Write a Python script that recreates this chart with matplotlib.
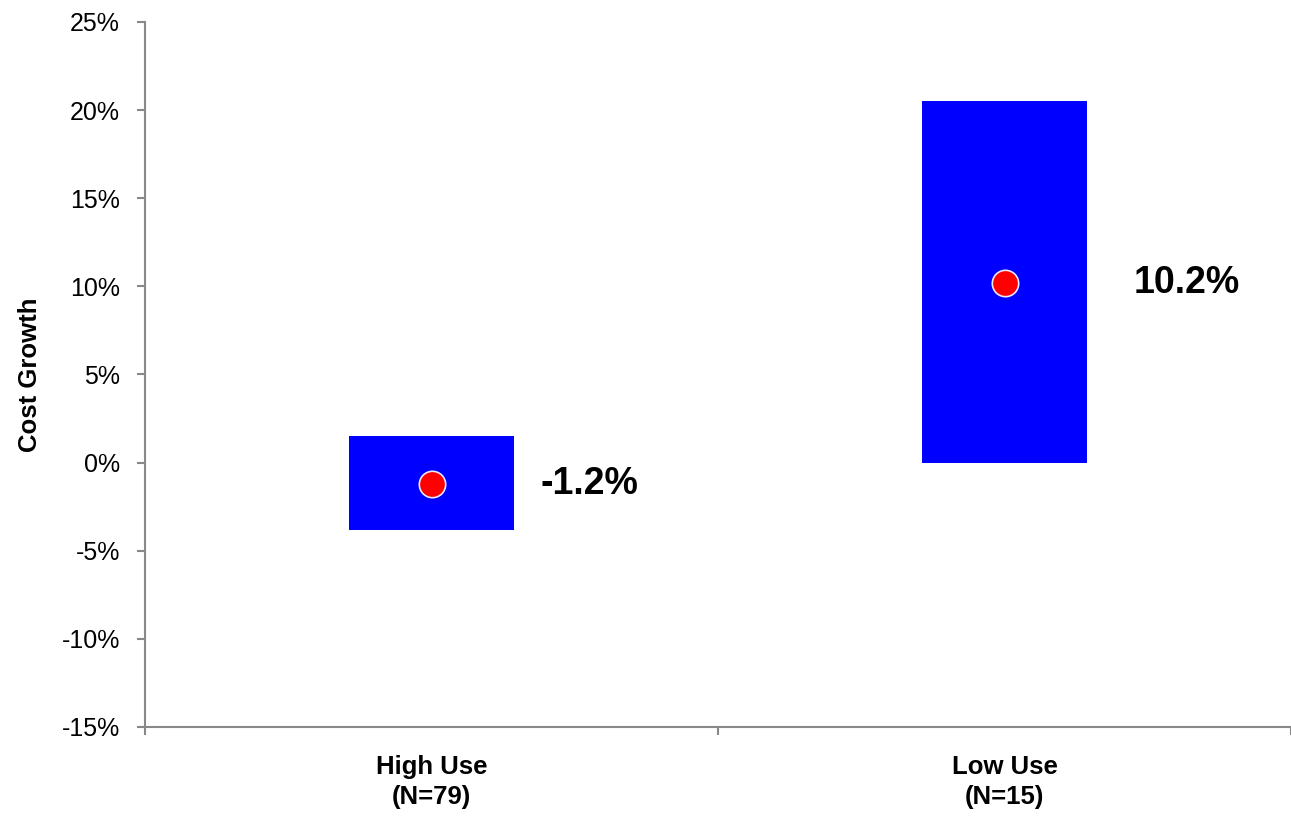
import matplotlib.pyplot as plt
from matplotlib.ticker import FuncFormatter, MultipleLocator

# cost growth ranges and means per group
groups = ["High Use\n(N=79)", "Low Use\n(N=15)"]
range_low = [-3.8, 0.0]
range_high = [1.5, 20.5]
means = [-1.2, 10.2]

plt.rcParams['font.family'] = ['Liberation Sans', 'DejaVu Sans']

fig = plt.figure(figsize=(12.91, 8.16), dpi=100)
ax = fig.add_axes([145 / 1291, 89 / 816, 1 - 145 / 1291, (727 - 22) / 816])

xs = range(len(groups))
heights = [h - l for h, l in zip(range_high, range_low)]
ax.bar(xs, heights, bottom=range_low, width=0.287, color="#0000ff", zorder=2)
ax.plot(xs, means, linestyle="none", marker="o", markersize=19,
        markerfacecolor="#ff0000", markeredgecolor="#e8e8ff",
        markeredgewidth=1.2, zorder=3)

label_dx = [0.19, 0.225]
for i, m in enumerate(means):
    ax.text(i + label_dx[i], m, f"{m:.1f}%", fontsize=27, fontweight="bold",
            ha="left", va="center")

ax.set_xlim(-0.5, 1.5)
ax.set_ylim(-15, 25)
ax.yaxis.set_major_locator(MultipleLocator(5))
ax.yaxis.set_major_formatter(FuncFormatter(lambda v, p: f"{v:.0f}%"))

# boundary ticks carry marks, group labels sit on minor ticks
ax.set_xticks([-0.5, 0.5, 1.5])
ax.set_xticklabels([])
ax.set_xticks(list(xs), minor=True)
ax.set_xticklabels(groups, minor=True, fontsize=18.5, fontweight="bold",
                   linespacing=1.35)
ax.tick_params(axis="x", which="minor", length=0, pad=20)
ax.tick_params(axis="x", which="major", length=6, color="#888888", width=1.5)
ax.tick_params(axis="y", length=6, color="#888888", width=1.5, pad=12,
               labelsize=18)

for s in ["top", "right"]:
    ax.spines[s].set_visible(False)
for s in ["left", "bottom"]:
    ax.spines[s].set_color("#888888")
    ax.spines[s].set_linewidth(1.5)

ax.set_ylabel("Cost Growth", fontsize=18.5, fontweight="bold", labelpad=14)

fig.savefig("out.png", dpi=100)
